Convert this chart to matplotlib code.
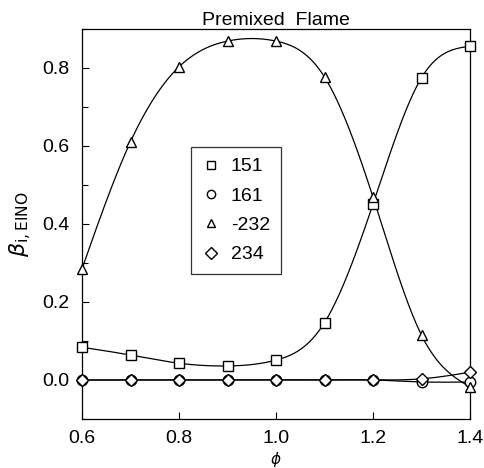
import matplotlib
matplotlib.use("Agg")
import matplotlib.pyplot as plt
import numpy as np
from matplotlib.ticker import MultipleLocator

plt.rcParams['font.family'] = ['Liberation Sans', 'DejaVu Sans']

phi = [0.6, 0.7, 0.8, 0.9, 1.0, 1.1, 1.2, 1.3, 1.4]
beta_151 = [0.084, 0.064, 0.043, 0.036, 0.051, 0.147, 0.451, 0.775, 0.856]
beta_161 = [0.0, 0.0, 0.0, 0.0, 0.0, 0.0, 0.0, -0.005, -0.005]
beta_m232 = [0.285, 0.611, 0.803, 0.869, 0.869, 0.777, 0.469, 0.115, -0.018]
beta_234 = [0.0, 0.0, 0.0, 0.0, 0.0, 0.0, 0.0, 0.003, 0.020]
labels = ['151', '161', '-232', '234']
markers = ['s', 'o', '^', 'D']


def natural_spline(x, y, n=400):
    # natural cubic spline through the points, for drawing the smooth curve
    x = np.asarray(x, float)
    y = np.asarray(y, float)
    k = len(x)
    h = np.diff(x)
    A = np.zeros((k, k))
    r = np.zeros(k)
    A[0, 0] = A[-1, -1] = 1.0
    for i in range(1, k - 1):
        A[i, i - 1] = h[i - 1]
        A[i, i] = 2 * (h[i - 1] + h[i])
        A[i, i + 1] = h[i]
        r[i] = 3 * ((y[i + 1] - y[i]) / h[i] - (y[i] - y[i - 1]) / h[i - 1])
    c = np.linalg.solve(A, r)
    xs = np.linspace(x[0], x[-1], n)
    idx = np.clip(np.searchsorted(x, xs) - 1, 0, k - 2)
    dx = xs - x[idx]
    b = (y[1:] - y[:-1]) / h - h * (2 * c[:-1] + c[1:]) / 3
    d = (c[1:] - c[:-1]) / (3 * h)
    ys = y[idx] + b[idx] * dx + c[idx] * dx ** 2 + d[idx] * dx ** 3
    return xs, ys


fig = plt.figure(figsize=(4.84, 4.68), dpi=100)
ax = fig.add_axes([82 / 484, 49 / 468, 388 / 484, 390 / 468])

series = [beta_151, beta_161, beta_m232, beta_234]
for ys, lab, m in zip(series, labels, markers):
    xs, yc = natural_spline(phi, ys)
    ax.plot(xs, yc, color='black', lw=0.9)
    ms = 6.0 if m == 'D' else 7.5
    ax.plot(phi, ys, linestyle='none', marker=m, markersize=ms,
            markerfacecolor='white', markeredgecolor='black',
            markeredgewidth=1.0, label=lab, clip_on=False, zorder=3)

ax.set_xlim(0.6, 1.4)
ax.set_ylim(-0.1, 0.9)
ax.xaxis.set_major_locator(MultipleLocator(0.2))
ax.yaxis.set_major_locator(MultipleLocator(0.2))
ax.yaxis.set_minor_locator(MultipleLocator(0.1))
ax.set_xticklabels([f"{v:.1f}" for v in ax.get_xticks()])
ax.tick_params(direction='in', labelsize=14, length=5, width=0.8,
               top=False, right=False)
ax.tick_params(axis='x', pad=8)
ax.tick_params(axis='y', pad=9)
ax.tick_params(which='minor', direction='in', length=4, width=0.8)
for s in ax.spines.values():
    s.set_linewidth(0.9)

ax.set_xlabel(r'$\phi$', fontsize=11)
ax.xaxis.set_label_coords(0.5, -0.08)
ax.set_ylabel(r'$\beta_{\mathrm{i,EINO}}$', fontsize=16, labelpad=6)
ax.set_title('Premixed  Flame', fontsize=14, pad=2)

leg = ax.legend(loc='upper left', bbox_to_anchor=(0.281, 0.697),
                fontsize=14, frameon=True, fancybox=False,
                edgecolor='black', handletextpad=0.5, labelspacing=0.6,
                borderpad=0.55, handlelength=1.0, borderaxespad=0)
leg.get_frame().set_linewidth(0.9)
for h in leg.legend_handles:
    h.set_markersize(6)

fig.savefig('out.png', dpi=100)
